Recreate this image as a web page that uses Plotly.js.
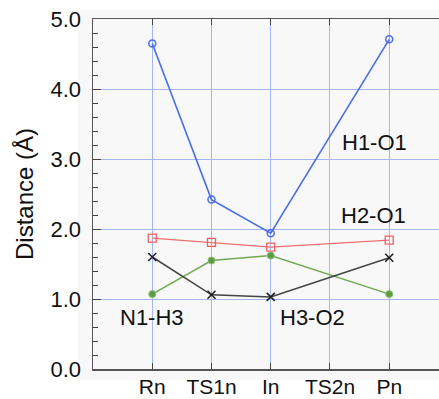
<!DOCTYPE html>
<html>
<head>
<meta charset="utf-8">
<script src="https://cdn.plot.ly/plotly-3.0.1.min.js"></script>
<style>html,body{margin:0;padding:0;background:#fff;}#chart{width:439px;height:399px;}</style>
</head>
<body>
<div id="chart"></div>
<script>
const categories = ["Rn", "TS1n", "In", "TS2n", "Pn"];
const pointCats = ["Rn", "TS1n", "In", "Pn"];
const h1o1 = [4.65, 2.42, 1.94, 4.71];
const h2o1 = [1.87, 1.81, 1.74, 1.84];
const n1h3 = [1.07, 1.55, 1.62, 1.07];
const h3o2 = [1.60, 1.06, 1.03, 1.59];
const yTicks = [0, 1, 2, 3, 4, 5];
const labels = [
  {text: "H1-O1", x: 3.75, y: 3.23},
  {text: "H2-O1", x: 3.73, y: 2.19},
  {text: "N1-H3", x: 0.0, y: 0.73},
  {text: "H3-O2", x: 2.7, y: 0.73}
];

const xIdx = pointCats.map(c => categories.indexOf(c));

const traces = [
  {x: xIdx, y: h1o1, mode: "lines+markers", line: {color: "#4a6ee8", width: 1.6},
   marker: {symbol: "circle-open", size: 7, color: "#4a6ee8", line: {width: 1.5}}},
  {x: xIdx, y: h2o1, mode: "lines+markers", line: {color: "#f07070", width: 1.3},
   marker: {symbol: "square-open", size: 8, color: "#f06060", line: {width: 1.3}}},
  {x: xIdx, y: n1h3, mode: "lines+markers", line: {color: "#70aa55", width: 1.5},
   marker: {symbol: "circle", size: 7, color: "#5c9c44", line: {width: 1, color: "#8cc070"}}},
  {x: xIdx, y: h3o2, mode: "lines+markers", line: {color: "#444444", width: 1.5},
   marker: {symbol: "x-thin-open", size: 8, color: "#222222", line: {width: 1.6, color: "#222222"}}}
];

const layout = {
  width: 439, height: 399,
  margin: {l: 93, r: 0, t: 19, b: 30},
  paper_bgcolor: "#ffffff",
  plot_bgcolor: "rgba(0,0,0,0)",
  showlegend: false,
  font: {family: "Liberation Sans, Arial, sans-serif", color: "#111"},
  xaxis: {
    range: [-1, 4.84],
    tickmode: "array",
    tickvals: categories.map((c, i) => i),
    ticktext: categories,
    ticks: "inside", ticklen: 6, tickcolor: "#444", tickwidth: 1,
    showline: true, linecolor: "#555", linewidth: 1.5, mirror: "ticks",
    showgrid: true, gridcolor: "#a4b6f6", gridwidth: 1,
    zeroline: false,
    ticklabelstandoff: -2,
    tickfont: {size: 21, color: "#111"}
  },
  yaxis: {
    range: [0, 5],
    tickmode: "array",
    tickvals: yTicks,
    tickformat: ".1f",
    ticks: "inside", ticklen: 8, tickcolor: "#444", tickwidth: 1,
    minor: {dtick: 0.2, ticks: "inside", ticklen: 5, tickcolor: "#444", showgrid: false},
    showline: true, linecolor: "#555", linewidth: 1.5,
    showgrid: true, gridcolor: "#a4b6f6", gridwidth: 1,
    zeroline: false,
    ticklabelstandoff: 6,
    tickfont: {size: 22, color: "#111"},
    title: {text: "Distance (Å)", font: {size: 24, color: "#111"}, standoff: 10}
  },
  shapes: [{
    type: "rect", xref: "paper", yref: "paper", layer: "below",
    x0: -0.043, x1: 1.05, y0: -0.031, y1: 1.026,
    fillcolor: "#f8f8f8", line: {width: 0}
  }],
  annotations: labels.map(l => ({
    text: l.text, x: l.x, y: l.y, xref: "x", yref: "y", showarrow: false,
    font: {size: 22, color: "#111"}
  }))
};

Plotly.newPlot("chart", traces, layout, {displayModeBar: false, staticPlot: true});
</script>
</body>
</html>
